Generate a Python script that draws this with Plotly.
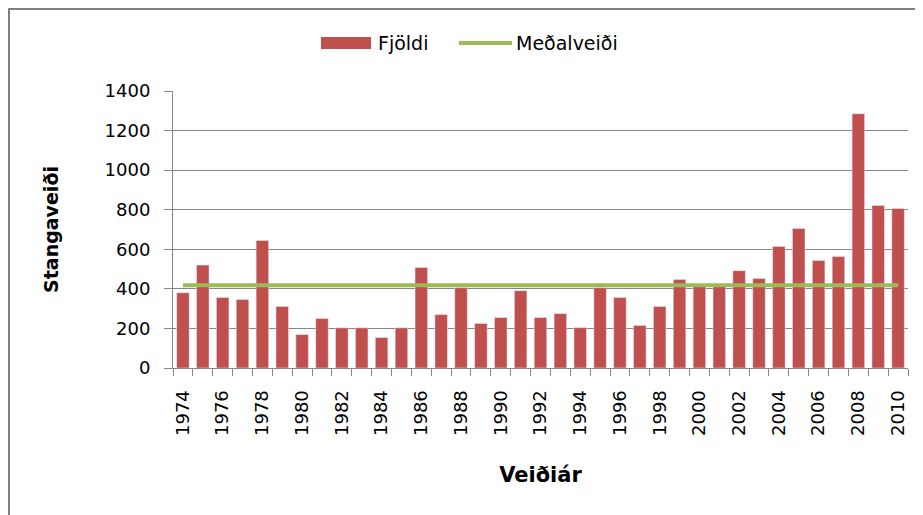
import plotly.graph_objects as go

years = list(range(1974, 2011))
catch = [380, 520, 356, 346, 644, 311, 169, 250, 203, 203, 154, 203, 508, 270, 406,
         225, 255, 391, 255, 275, 204, 406, 356, 215, 311, 447, 412, 412, 492, 452,
         614, 705, 543, 563, 1285, 821, 806]
mean_catch = 418
tick_years = list(range(1974, 2011, 2))
series_names = ["Fjöldi", "Meðalveiði"]
y_title = "Stangaveiði"
x_title = "Veiðiár"

BAR = "#C0504D"
LINE = "#9BBB59"
GRID = "#868686"
FONT = "DejaVu Sans"

OFF = 8  # page body margin
W, H = 923 - OFF, 515 - OFF
L, T = 173 - OFF, 91 - OFF
R = W - (908 - OFF)
B = H - (368 - OFF)
pw, ph = W - L - R, H - T - B


def px(x):
    return (x - OFF - L) / pw


def py(y):
    return (H - B - (y - OFF)) / ph


fig = go.Figure()
fig.add_trace(go.Bar(x=years, y=catch, name=series_names[0], marker_color=BAR,
                     width=0.63, showlegend=False))
fig.add_trace(go.Scatter(x=[years[0], years[-1]], y=[mean_catch, mean_catch],
                         mode="lines", name=series_names[1],
                         line=dict(color=LINE, width=4), showlegend=False))

shapes = [
    # outer frame (top and left)
    dict(type="line", xref="paper", yref="paper", x0=px(8.5), x1=px(923), y0=py(8.5), y1=py(8.5),
         line=dict(color="#808080", width=3)),
    dict(type="line", xref="paper", yref="paper", x0=px(8.5), x1=px(8.5), y0=py(8.5), y1=py(515),
         line=dict(color="#808080", width=3)),
    # legend symbols
    dict(type="rect", xref="paper", yref="paper", x0=px(321), x1=px(371), y0=py(49), y1=py(37),
         fillcolor=BAR, line=dict(width=0)),
    dict(type="line", xref="paper", yref="paper", x0=px(459), x1=px(512), y0=py(43), y1=py(43),
         line=dict(color=LINE, width=4)),
]
annotations = [
    dict(text=series_names[0], xref="paper", yref="paper", x=px(376), y=py(43),
         xanchor="left", yanchor="middle", showarrow=False,
         font=dict(family=FONT, size=19, color="#000000")),
    dict(text=series_names[1], xref="paper", yref="paper", x=px(514), y=py(43),
         xanchor="left", yanchor="middle", showarrow=False,
         font=dict(family=FONT, size=19, color="#000000")),
]

fig.update_layout(
    width=W, height=H,
    margin=dict(l=L, r=R, t=T, b=B, autoexpand=False),
    paper_bgcolor="white", plot_bgcolor="white",
    font=dict(family=FONT, size=18, color="#000000"),
    shapes=shapes, annotations=annotations,
    showlegend=False,
)
fig.update_xaxes(
    range=[1973.5, 2010.5],
    tickmode="array", tickvals=tick_years, ticktext=[str(y) for y in tick_years],
    tickangle=-90, ticks="", showgrid=False,
    showline=True, linecolor=GRID, linewidth=1,
    ticklabelstandoff=14,
    tickfont=dict(family=FONT, size=18),
    minor=dict(tickmode="array", tickvals=[y - 0.5 for y in years] + [2010.5],
               ticks="outside", ticklen=7, tickcolor=GRID, tickwidth=1, showgrid=False),
    title=dict(text="<b>" + x_title + "</b>", font=dict(family=FONT, size=21, color="#000000"),
               standoff=32),
)
fig.update_yaxes(
    range=[0, 1400], dtick=200,
    showgrid=True, gridcolor=GRID, gridwidth=1,
    zeroline=False,
    showline=True, linecolor=GRID, linewidth=1,
    ticks="outside", ticklen=8, tickcolor=GRID,
    ticklabelstandoff=10,
    tickfont=dict(family=FONT, size=18),
    title=dict(text="<b>" + y_title + "</b>", font=dict(family=FONT, size=19, color="#000000"),
               standoff=40),
)

fig.write_html("out.html")
